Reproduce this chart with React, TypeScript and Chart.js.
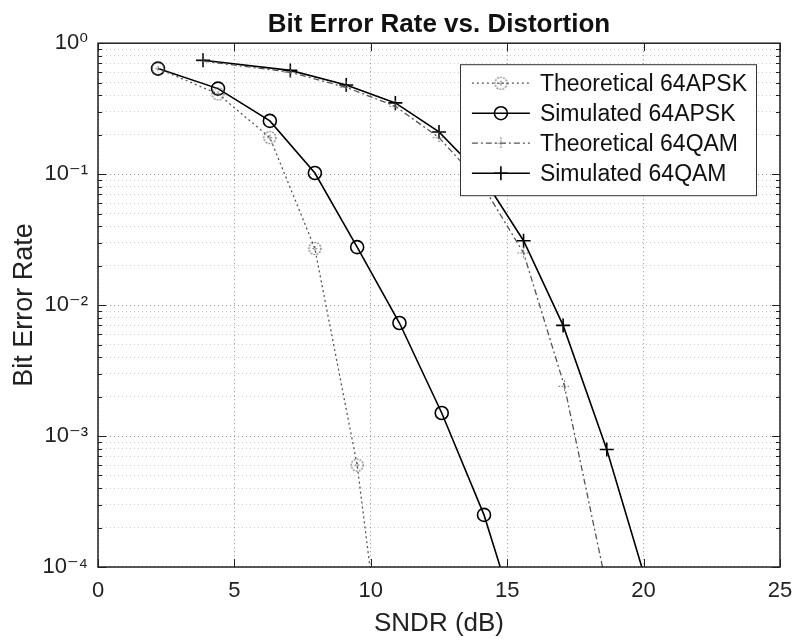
import React, { useEffect, useRef } from 'react';
import { Chart, registerables } from 'chart.js';

Chart.register(...registerables);

const TITLE = 'Bit Error Rate vs. Distortion';
const X_TITLE = 'SNDR (dB)';
const Y_TITLE = 'Bit Error Rate';
const seriesNames = ['Theoretical 64APSK', 'Simulated 64APSK', 'Theoretical 64QAM', 'Simulated 64QAM'];

// 64APSK
const apskTheorySnr = [2.2, 4.4, 6.3, 7.95, 9.5, 11.05];
const apskTheory = [0.64, 0.41, 0.19, 0.027, 0.0006, 0.0000016];
const apskSimSnr = [2.2, 4.4, 6.3, 7.95, 9.5, 11.05, 12.6, 14.15, 15.7];
const apskSim = [0.64, 0.45, 0.255, 0.102, 0.0277, 0.0073, 0.0015, 0.00025, 0.000023];

// 64QAM
const qamTheorySnr = [3.85, 7.05, 9.1, 10.9, 12.5, 14.1, 15.6, 17.1, 18.65];
const qamTheory = [0.73, 0.6, 0.46, 0.33, 0.19, 0.082, 0.025, 0.0024, 0.00007];
const qamSimSnr = [3.85, 7.05, 9.1, 10.9, 12.5, 14.1, 15.6, 17.05, 18.65, 20.2];
const qamSim = [0.74, 0.62, 0.48, 0.35, 0.21, 0.095, 0.031, 0.0070, 0.00079, 0.000065];

const xTicks = [0, 5, 10, 15, 20, 25];
const yDecades = [1e-4, 1e-3, 1e-2, 1e-1, 1];
const yTickLabels = ['10⁻⁴', '10⁻³', '10⁻²', '10⁻¹', '10⁰'];
const minorMultipliers = [2, 3, 4, 5, 6, 7, 8, 9];

const FAMILY = '"Liberation Sans", "DejaVu Sans", Arial, sans-serif';

function isDecade(v: number) {
  const l = Math.log10(v);
  return Math.abs(l - Math.round(l)) < 1e-6;
}

function makeMarker(kind: 'circle' | 'plus', color: string, dash: number[]) {
  const c = document.createElement('canvas');
  c.width = 17;
  c.height = 17;
  const g = c.getContext('2d')!;
  g.strokeStyle = color;
  g.lineWidth = 1.2;
  g.setLineDash(dash);
  g.beginPath();
  if (kind === 'circle') {
    g.arc(8.5, 8.5, 6, 0, Math.PI * 2);
    g.stroke();
    g.beginPath();
    g.moveTo(8.5, 6);
    g.lineTo(8.5, 11);
    g.moveTo(6, 8.5);
    g.lineTo(11, 8.5);
  } else {
    g.moveTo(8.5, 2.5);
    g.lineTo(8.5, 14.5);
    g.moveTo(2.5, 8.5);
    g.lineTo(14.5, 8.5);
  }
  g.stroke();
  return c;
}

const pts = (xs: number[], ys: number[]) => xs.map((x, i) => ({ x, y: ys[i] }));

export default function App() {
  const ref = useRef<HTMLCanvasElement | null>(null);

  useEffect(() => {
    if (!ref.current) return;
    const circleMarker = makeMarker('circle', '#555', [1.5, 1.5]);
    const plusMarker = makeMarker('plus', '#666', [1.5, 1.5]);

    const framePlugin = {
      id: 'frameAndLegend',
      afterDatasetsDraw(chart: any) {
        const { ctx, chartArea: a, scales } = chart;
        ctx.save();
        // inward tick marks
        ctx.strokeStyle = '#222';
        ctx.lineWidth = 1;
        ctx.setLineDash([]);
        ctx.beginPath();
        const ys = scales.y;
        ys.ticks.forEach((t: any) => {
          const py = Math.round(ys.getPixelForValue(t.value)) + 0.5;
          const len = isDecade(t.value) ? 8 : 4;
          ctx.moveTo(a.left, py);
          ctx.lineTo(a.left + len, py);
          ctx.moveTo(a.right, py);
          ctx.lineTo(a.right - len, py);
        });
        const xs = scales.x;
        xs.ticks.forEach((t: any) => {
          const px = Math.round(xs.getPixelForValue(t.value)) + 0.5;
          ctx.moveTo(px, a.bottom);
          ctx.lineTo(px, a.bottom - 8);
          ctx.moveTo(px, a.top);
          ctx.lineTo(px, a.top + 8);
        });
        ctx.stroke();
        // frame
        ctx.lineWidth = 1.5;
        ctx.strokeStyle = '#222';
        ctx.strokeRect(a.left, a.top, a.right - a.left, a.bottom - a.top);

        // legend
        const font = `23px ${FAMILY}`;
        ctx.font = font;
        const textW = Math.max(...seriesNames.map((n) => ctx.measureText(n).width));
        const padL = 12, sampleW = 58, gap = 10, padR = 9, rowH = 30;
        const boxW = padL + sampleW + gap + textW + padR;
        const boxH = 131;
        const boxRight = a.right - 24;
        const boxTop = a.top + 21;
        const boxLeft = boxRight - boxW;
        ctx.fillStyle = '#fff';
        ctx.fillRect(boxLeft, boxTop, boxW, boxH);
        ctx.lineWidth = 1;
        ctx.strokeStyle = '#333';
        ctx.strokeRect(Math.round(boxLeft) + 0.5, boxTop + 0.5, Math.round(boxW), boxH);
        chart.data.datasets.forEach((ds: any, i: number) => {
          const cy = boxTop + 19 + i * rowH;
          const x0 = boxLeft + padL;
          ctx.save();
          ctx.strokeStyle = ds.borderColor;
          ctx.lineWidth = ds.borderWidth;
          ctx.setLineDash(ds.borderDash || []);
          ctx.beginPath();
          ctx.moveTo(x0, cy);
          ctx.lineTo(x0 + sampleW, cy);
          ctx.stroke();
          ctx.restore();
          const cx = x0 + sampleW / 2;
          if (ds.pointStyle instanceof HTMLCanvasElement) {
            const img = ds.pointStyle;
            ctx.drawImage(img, cx - img.width / 2, cy - img.height / 2);
          } else {
            ctx.save();
            ctx.setLineDash([]);
            ctx.strokeStyle = ds.pointBorderColor;
            ctx.lineWidth = ds.pointBorderWidth;
            ctx.beginPath();
            if (ds.pointStyle === 'circle') {
              ctx.arc(cx, cy, ds.pointRadius, 0, Math.PI * 2);
            } else {
              ctx.moveTo(cx - ds.pointRadius, cy);
              ctx.lineTo(cx + ds.pointRadius, cy);
              ctx.moveTo(cx, cy - ds.pointRadius);
              ctx.lineTo(cx, cy + ds.pointRadius);
            }
            ctx.stroke();
            ctx.restore();
          }
          ctx.fillStyle = '#111';
          ctx.font = font;
          ctx.textAlign = 'left';
          ctx.textBaseline = 'middle';
          ctx.fillText(ds.label, x0 + sampleW + gap, cy + 1);
        });
        ctx.restore();
      },
    };

    const chart = new Chart(ref.current, {
      type: 'line',
      data: {
        datasets: [
          {
            label: seriesNames[0],
            data: pts(apskTheorySnr, apskTheory),
            borderColor: '#555',
            borderWidth: 1.3,
            borderDash: [2, 3],
            pointStyle: circleMarker as any,
            pointRadius: 7,
            tension: 0,
            clip: 0 as any,
          },
          {
            label: seriesNames[1],
            data: pts(apskSimSnr, apskSim),
            borderColor: '#000',
            borderWidth: 1.6,
            pointStyle: 'circle',
            pointRadius: 6.5,
            pointBorderColor: '#000',
            pointBackgroundColor: 'rgba(0,0,0,0)',
            pointBorderWidth: 1.6,
            tension: 0,
            clip: 0 as any,
          },
          {
            label: seriesNames[2],
            data: pts(qamTheorySnr, qamTheory),
            borderColor: '#555',
            borderWidth: 1.3,
            borderDash: [6, 3, 2, 3],
            pointStyle: plusMarker as any,
            pointRadius: 7,
            tension: 0,
            clip: 0 as any,
          },
          {
            label: seriesNames[3],
            data: pts(qamSimSnr, qamSim),
            borderColor: '#000',
            borderWidth: 1.6,
            pointStyle: 'cross',
            pointRadius: 7,
            pointBorderColor: '#000',
            pointBackgroundColor: 'rgba(0,0,0,0)',
            pointBorderWidth: 1.6,
            tension: 0,
            clip: 0 as any,
          },
        ] as any,
      },
      options: {
        animation: false,
        responsive: false,
        devicePixelRatio: 1,
        layout: { padding: { left: 0, right: 15, top: 0, bottom: 0 } },
        plugins: {
          legend: { display: false },
          tooltip: { enabled: false },
          title: {
            display: true,
            fullSize: false,
            text: TITLE,
            color: '#111',
            font: { family: FAMILY, size: 26, weight: 'bold' },
            padding: { top: 9, bottom: 3 },
          },
        },
        scales: {
          x: {
            type: 'linear',
            min: 0,
            max: 25,
            afterBuildTicks: (s: any) => {
              s.ticks = xTicks.map((v) => ({ value: v }));
            },
            afterFit: (s: any) => {
              s.height = 77;
              s.paddingLeft = 0;
              s.paddingRight = 0;
            },
            ticks: {
              autoSkip: false,
              maxRotation: 0,
              color: '#222',
              font: { family: FAMILY, size: 22 },
              padding: 11,
              callback: (v: any) => String(v),
            },
            grid: { color: 'rgba(0,0,0,0.42)', lineWidth: 1, drawTicks: false },
            border: { display: false, dash: [1, 3] },
            title: {
              display: true,
              text: X_TITLE,
              color: '#222',
              font: { family: FAMILY, size: 26 },
              padding: { top: 0, bottom: 5 },
            },
          },
          y: {
            type: 'logarithmic',
            min: 1e-4,
            max: 1,
            afterBuildTicks: (s: any) => {
              const t: any[] = [];
              yDecades.forEach((d, i) => {
                t.push({ value: d });
                if (i < yDecades.length - 1) minorMultipliers.forEach((m) => t.push({ value: d * m }));
              });
              s.ticks = t;
            },
            afterFit: (s: any) => {
              s.width = 98;
              s.paddingTop = 0;
              s.paddingBottom = 0;
            },
            ticks: {
              autoSkip: false,
              color: '#222',
              font: { family: FAMILY, size: 22 },
              padding: 10,
              callback: (v: any) => {
                const idx = yDecades.findIndex((d) => Math.abs(Math.log10(d) - Math.log10(v)) < 1e-6);
                return idx >= 0 ? yTickLabels[idx] : '';
              },
            },
            grid: {
              color: (c: any) => (c.tick && isDecade(c.tick.value) ? 'rgba(0,0,0,0.42)' : 'rgba(0,0,0,0.2)'),
              lineWidth: 1,
              drawTicks: false,
            },
            border: { display: false, dash: [1, 3] },
            title: {
              display: true,
              text: Y_TITLE,
              color: '#222',
              font: { family: FAMILY, size: 27 },
              padding: { top: 8, bottom: 0 },
            },
          },
        },
      } as any,
      plugins: [framePlugin],
    });
    return () => chart.destroy();
  }, []);

  return (
    <div style={{ position: 'fixed', left: 0, top: 0, width: 795, height: 644, background: '#fff' }}>
      <canvas ref={ref} width={795} height={644} style={{ display: 'block' }} />
    </div>
  );
}
